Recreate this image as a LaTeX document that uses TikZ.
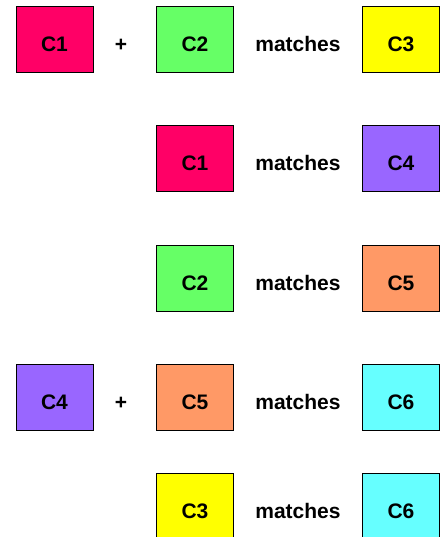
\documentclass[tikz,border=0pt]{standalone}
\usepackage{fontspec}
\setmainfont{Liberation Sans}
\definecolor{cOne}{HTML}{FF0066}
\definecolor{cTwo}{HTML}{66FF66}
\definecolor{cThree}{HTML}{FFFF00}
\definecolor{cFour}{HTML}{9966FF}
\definecolor{cFive}{HTML}{FF9966}
\definecolor{cSix}{HTML}{66FFFF}
\begin{document}
\begin{tikzpicture}[x=1pt,y=-1pt,
  every node/.style={font=\fontsize{21}{25}\selectfont\bfseries},
  cbox/.style={draw=black,line width=1pt,minimum width=77pt,minimum height=66pt,
    inner sep=0pt,text height=24pt,text depth=0pt},
  word/.style={anchor=base,inner sep=0pt}]
\useasboundingbox (0,0) rectangle (445,537);
% row 1
\node[cbox,fill=cOne]   (r1a) at (54.5,40) {C1};
\node[word]             (r1p) at (121,52) {+};
\node[cbox,fill=cTwo]   (r1b) at (195,40) {C2};
\node[word]             (r1m) at (298,52) {matches};
\node[cbox,fill=cThree] (r1c) at (401,40) {C3};
% row 2
\node[cbox,fill=cOne]   (r2b) at (195,159) {C1};
\node[word]             (r2m) at (298,171) {matches};
\node[cbox,fill=cFour]  (r2c) at (401,159) {C4};
% row 3
\node[cbox,fill=cTwo]   (r3b) at (195,278) {C2};
\node[word]             (r3m) at (298,290) {matches};
\node[cbox,fill=cFive]  (r3c) at (401,278) {C5};
% row 4
\node[cbox,fill=cFour]  (r4a) at (54.5,397) {C4};
\node[word]             (r4p) at (121,409) {+};
\node[cbox,fill=cFive]  (r4b) at (195,397) {C5};
\node[word]             (r4m) at (298,409) {matches};
\node[cbox,fill=cSix]   (r4c) at (401,397) {C6};
% row 5
\node[cbox,fill=cThree] (r5b) at (195,506) {C3};
\node[word]             (r5m) at (298,518) {matches};
\node[cbox,fill=cSix]   (r5c) at (401,506) {C6};
\end{tikzpicture}
\end{document}
